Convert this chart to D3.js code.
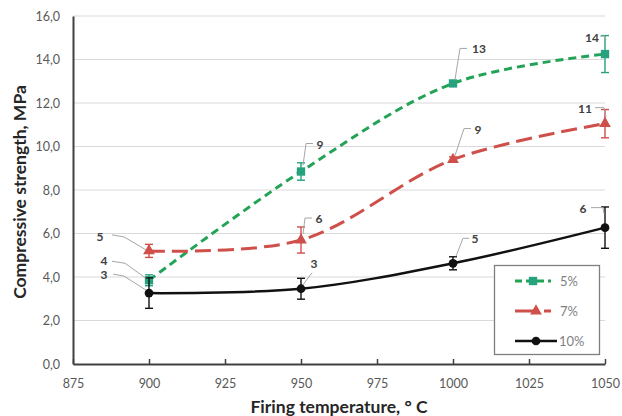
<!DOCTYPE html>
<html>
<head>
<meta charset="utf-8">
<script src="https://cdn.jsdelivr.net/npm/d3@7"></script>
<style>
  body { margin: 0; background: #fff; }
  text { font-family: Lato, "Open Sans", sans-serif; }
</style>
</head>
<body>
<svg id="chart" width="622" height="416"></svg>
<script>
// data
const temperatures = [900, 950, 1000, 1050];
const xTicks = [875, 900, 925, 950, 975, 1000, 1025, 1050];
const yTicks = [0, 2, 4, 6, 8, 10, 12, 14, 16];

const seriesNames = ['5%', '7%', '10%'];
const strength5 = [3.85, 8.85, 12.9, 14.25];
const strength7 = [5.2, 5.7, 9.4, 11.05];
const strength10 = [3.26, 3.46, 4.63, 6.27];
const error5 = [0.25, 0.4, 0.12, 0.85];
const error7 = [0.3, 0.6, 0.12, 0.65];
const error10 = [0.7, 0.48, 0.3, 0.95];

const svg = d3.select('#chart');

const x = d3.scaleLinear().domain([875, 1050]).range([73, 605]);
const y = d3.scaleLinear().domain([0, 16]).range([364, 16]);

const comma = v => d3.format('.1f')(v).replace('.', ',');

// series styles + where each data label sits (px offsets from its point)
const styles = [
  { color: '#22a356', marker: '#27a27e', dash: '8,5', width: 3, shape: d3.symbolSquare, size: 70,
    labels: [
      { t: [-45, -19], leader: [[-3, -2], [-24, -17], [-37, -19]] },
      { t: [19, -27], leader: [[2, -6], [5, -28], [12, -28]] },
      { t: [26, -35], leader: [[2, -4], [7, -35], [14, -35]] },
      { t: [-13, -16], leader: [[-5, -18], [0, -18], [1, -14]] }
    ] },
  { color: '#cf4f4a', marker: '#cf4f4a', dash: '16,7', width: 3, shape: d3.symbolTriangle, size: 60,
    labels: [
      { t: [-49, -14], leader: [[-3, -1], [-25, -14], [-37, -16]] },
      { t: [18, -21], leader: [[2, -6], [4, -22], [11, -22]] },
      { t: [25, -30], leader: [[2, -4], [11, -31], [18, -31]] },
      { t: [-20, -15], leader: [[-10, -16], [-1, -16], [1, -7]] }
    ] },
  { color: '#111111', marker: '#111111', dash: null, width: 2.5, shape: d3.symbolCircle, size: 60,
    labels: [
      { t: [-45, -18], leader: [[-3, -3], [-25, -17], [-36, -19]] },
      { t: [13, -25], leader: [[2, -4], [11, -16]] },
      { t: [22, -24], leader: [[3, -7], [10, -25], [16, -25]] },
      { t: [-22, -19], leader: [[-14, -20], [-2, -20], [-1, -14]] }
    ] }
];

const series = [strength5, strength7, strength10].map((vals, i) => ({
  name: seriesNames[i],
  style: styles[i],
  points: vals.map((v, j) => ({ t: temperatures[j], v: v, e: [error5, error7, error10][i][j] }))
}));

// gridlines
svg.append('g')
  .selectAll('line')
  .data(yTicks.slice(1))
  .join('line')
    .attr('x1', x(875)).attr('x2', x(1050))
    .attr('y1', d => y(d)).attr('y2', d => y(d))
    .attr('stroke', '#d9d9d9').attr('stroke-width', 1);

// axes
const xAxis = d3.axisBottom(x).tickValues(xTicks).tickFormat(d3.format('d'))
  .tickSizeInner(-5).tickSizeOuter(0).tickPadding(15);
const yAxis = d3.axisLeft(y).tickValues(yTicks).tickSize(0).tickPadding(13).tickFormat(comma);

const gx = svg.append('g').attr('transform', `translate(0,${y(0)})`).call(xAxis);
const gy = svg.append('g').attr('transform', `translate(${x(875)},0)`).call(yAxis);

[gx, gy].forEach(g => {
  g.select('.domain').attr('stroke', '#404040').attr('stroke-width', 2);
  g.selectAll('.tick line').attr('stroke', '#404040').attr('stroke-width', 1.5);
  g.selectAll('.tick text').attr('fill', '#595959').attr('font-size', 12.5);
});

// axis titles
svg.append('text')
  .attr('x', 339).attr('y', 413)
  .attr('text-anchor', 'middle')
  .attr('font-size', 17.5).attr('font-weight', 'bold').attr('fill', '#262626')
  .text('Firing temperature, ° C');

svg.append('text')
  .attr('transform', 'translate(26,192) rotate(-90)')
  .attr('text-anchor', 'middle')
  .attr('font-size', 17.5).attr('font-weight', 'bold').attr('fill', '#262626')
  .text('Compressive strength, MPa');

// lines
const line = d3.line()
  .x(d => x(d.t))
  .y(d => y(d.v))
  .curve(d3.curveCatmullRom.alpha(0.5));

const sg = svg.append('g').selectAll('g')
  .data(series)
  .join('g');

sg.append('path')
  .attr('d', d => line(d.points))
  .attr('fill', 'none')
  .attr('stroke', d => d.style.color)
  .attr('stroke-width', d => d.style.width)
  .attr('stroke-dasharray', d => d.style.dash);

// error bars
sg.each(function (s) {
  const g = d3.select(this);
  const eb = g.append('g').attr('stroke', s.style.marker).attr('stroke-width', 1.4);
  s.points.forEach(p => {
    const cx = x(p.t);
    eb.append('line').attr('x1', cx).attr('x2', cx).attr('y1', y(p.v - p.e)).attr('y2', y(p.v + p.e));
    [p.v - p.e, p.v + p.e].forEach(v => {
      eb.append('line').attr('x1', cx - 4).attr('x2', cx + 4).attr('y1', y(v)).attr('y2', y(v));
    });
  });

  g.selectAll('path.marker')
    .data(s.points)
    .join('path')
      .attr('class', 'marker')
      .attr('transform', d => `translate(${x(d.t)},${y(d.v)})`)
      .attr('d', d3.symbol().type(s.style.shape).size(s.style.size))
      .attr('fill', s.style.marker);
});

// data labels with leader lines
const labelLayer = svg.append('g');
series.forEach(s => {
  s.points.forEach((p, j) => {
    const lab = s.style.labels[j];
    const px = x(p.t), py = y(p.v);
    labelLayer.append('path')
      .attr('d', d3.line()(lab.leader.map(o => [px + o[0], py + o[1]])))
      .attr('fill', 'none')
      .attr('stroke', '#a6a6a6')
      .attr('stroke-width', 1);
    labelLayer.append('text')
      .attr('x', px + lab.t[0]).attr('y', py + lab.t[1])
      .attr('dy', '0.35em')
      .attr('text-anchor', 'middle')
      .attr('font-size', 12).attr('font-weight', 'bold').attr('fill', '#404040')
      .text(d3.format('.0f')(p.v));
  });
});

// legend
const legend = svg.append('g');
legend.append('rect')
  .attr('x', 494.5).attr('y', 265.5).attr('width', 105).attr('height', 89)
  .attr('fill', '#fff').attr('stroke', '#7f7f7f').attr('stroke-width', 1.3);

const li = legend.selectAll('g.item')
  .data(series)
  .join('g')
    .attr('class', 'item')
    .attr('transform', (d, i) => `translate(0,${281 + i * 30})`);

li.append('line')
  .attr('x1', 515).attr('x2', d => d.name === '10%' ? 557 : 551)
  .attr('y1', 0).attr('y2', 0)
  .attr('stroke', d => d.style.color)
  .attr('stroke-width', d => d.style.width)
  .attr('stroke-dasharray', d => d.name === '5%' ? '7,4' : d.name === '7%' ? '22,7' : null);

li.append('path')
  .attr('transform', d => `translate(${d.name === '5%' ? 533 : 536},0)`)
  .attr('d', d => d3.symbol().type(d.style.shape).size(d.style.size)())
  .attr('fill', d => d.style.marker);

li.append('text')
  .attr('x', d => d.name === '10%' ? 559 : 560)
  .attr('dy', '0.35em')
  .attr('font-size', 13).attr('fill', '#7f7f7f')
  .text(d => d.name);
</script>
</body>
</html>
